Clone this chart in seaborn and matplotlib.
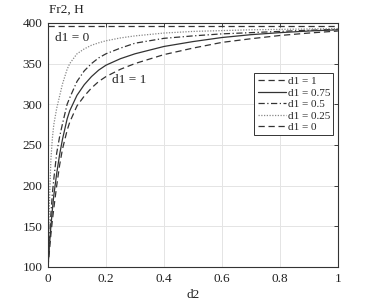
import matplotlib
matplotlib.use("Agg")
import matplotlib.pyplot as plt
import seaborn as sns
import pandas as pd

sns.set_theme(style="white")
plt.rcParams['font.family'] = ['Liberation Serif', 'DejaVu Serif']

# d2 grid and read values of Fr2 for each d1
d2_grid = [0, 0.005, 0.01, 0.015, 0.02, 0.03, 0.04, 0.05, 0.066, 0.075, 0.1, 0.125,
           0.15, 0.175, 0.2, 0.25, 0.3, 0.4, 0.5, 0.6, 0.7, 0.8, 0.9, 1.0]
f_d1_100 = [100, 120, 140, 157, 172, 200, 225, 245, 268, 278, 298, 310,
            320, 328, 334, 343, 350, 361, 369, 376, 380.5, 384.5, 387.5, 390]
f_d1_075 = [100, 127, 150, 170, 188, 215, 238, 257, 282, 292, 311, 324,
            334, 342, 348, 356, 362, 371, 377, 382, 385.5, 388, 390, 391.5]
f_d1_050 = [100, 135, 165, 190, 208, 240, 260, 276, 300, 308, 328, 341,
            350, 357, 362, 369, 375, 381, 384, 386.5, 388, 389.5, 391, 392]
f_d1_025 = [100, 180, 232, 258, 275, 295, 310, 325, 343, 350, 362, 368,
            372.5, 375.5, 378, 381.5, 384, 387.5, 389.5, 390.5, 391.5, 392, 392.5, 393]
d2_flat = [0, 1.0]
f_d1_000 = [396, 396]

labels = ["d1 = 1", "d1 = 0.75", "d1 = 0.5", "d1 = 0.25", "d1 = 0"]
xticks = [0, 0.2, 0.4, 0.6, 0.8, 1]
yticks = [100, 150, 200, 250, 300, 350, 400]

fig = plt.figure(figsize=(3.75, 3.01), dpi=100)
ax = fig.add_axes([0.128, 0.113, 0.773, 0.811])

series = [
    (d2_grid, f_d1_100, (0, (5, 3)), '#333333'),
    (d2_grid, f_d1_075, '-', '#333333'),
    (d2_grid, f_d1_050, (0, (5, 2, 1, 2)), '#333333'),
    (d2_grid, f_d1_025, (0, (1, 1.2)), '#888888'),
    (d2_flat, f_d1_000, (0, (5, 3)), '#333333'),
]
for (xs, ys, ls, col), lab in zip(series, labels):
    df = pd.DataFrame({"d2": xs, "F": ys})
    sns.lineplot(data=df, x="d2", y="F", ax=ax, color=col, linestyle=ls,
                 linewidth=0.9, label=lab, estimator=None, sort=False)

ax.set_xlim(0, 1)
ax.set_ylim(100, 400)
ax.set_xticks(xticks)
ax.set_xticklabels([f"{t:g}" for t in xticks])
ax.set_yticks(yticks)
ax.grid(True, color='#e4e4e4', linewidth=0.7)
ax.tick_params(direction='in', length=3, width=0.6, top=True, right=True,
               labelsize=9.5, colors='#222222', pad=4)
for s in ax.spines.values():
    s.set_color('#333333')
    s.set_linewidth(0.8)

ax.set_xlabel("d2", fontsize=9.5, color='#222222', labelpad=3)
ax.set_ylabel("")
fig.text(0.130, 0.966, "Fr2, H", fontsize=9.5, color='#222222', ha='left', va='center')

ax.text(0.024, 381.5, "d1 = 0", fontsize=9.5, color='#222222', ha='left', va='center')
ax.text(0.22, 330, "d1 = 1", fontsize=9.5, color='#222222', ha='left', va='center')

leg = ax.legend(loc='upper right', bbox_to_anchor=(0.984, 0.794), fontsize=8,
                frameon=True, fancybox=False, framealpha=1, edgecolor='#333333',
                borderpad=0.3, labelspacing=0.15, handlelength=2.6, handletextpad=0.1,
                borderaxespad=0)
leg.get_frame().set_linewidth(0.7)

fig.savefig("out.png", dpi=100)
